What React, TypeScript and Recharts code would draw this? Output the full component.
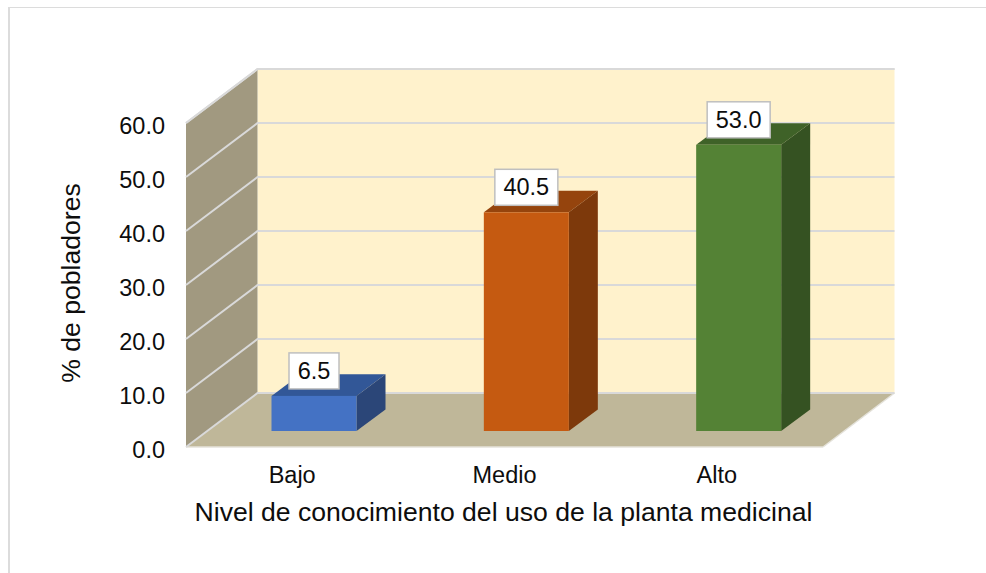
import { Bar, BarChart, CartesianGrid, LabelList, XAxis, YAxis, usePlotArea } from "recharts";

const niveles = ["Bajo", "Medio", "Alto"];
const porcentajes = [6.5, 40.5, 53.0];
const yTicks = [0, 10, 20, 30, 40, 50, 60];

const data = niveles.map((nivel, i) => ({ nivel, pct: porcentajes[i] }));

const FONT = '"Liberation Sans", Arial, sans-serif';
const GRID = "#d9d9d9";

// depth of the fake 3D box
const DEPTH_X = 71.5;
const DEPTH_Y = -54;
// bars stand a bit inside the floor, and have their own depth
const BAR_SHIFT_X = 21.5;
const BAR_SHIFT_Y = -16;
const BAR_DX = 29;
const BAR_DY = -21.6;

const frontColors = ["#4472c4", "#c55a11", "#548235"];
const topColors = ["#325797", "#95440d", "#3f6228"];
const sideColors = ["#2b4678", "#7d390b", "#355222"];

function Walls() {
  const plot = usePlotArea();
  if (!plot) return null;
  const left = plot.x;
  const right = plot.x + plot.width;
  const top = plot.y;
  const bottom = plot.y + plot.height;
  const pts = (list: number[][]) => list.map((p) => p.join(",")).join(" ");
  return (
    <g>
      <polygon
        points={pts([
          [left + DEPTH_X, top + DEPTH_Y],
          [right + DEPTH_X, top + DEPTH_Y],
          [right + DEPTH_X, bottom + DEPTH_Y],
          [left + DEPTH_X, bottom + DEPTH_Y],
        ])}
        fill="#fff2cc"
      />
      <polygon
        points={pts([
          [left, top],
          [left + DEPTH_X, top + DEPTH_Y],
          [left + DEPTH_X, bottom + DEPTH_Y],
          [left, bottom],
        ])}
        fill="#a19980"
      />
      <polygon
        points={pts([
          [left, bottom],
          [left + DEPTH_X, bottom + DEPTH_Y],
          [right + DEPTH_X, bottom + DEPTH_Y],
          [right, bottom],
        ])}
        fill="#bfb799"
      />
      <line x1={left} y1={bottom} x2={right} y2={bottom} stroke="#e4e2da" strokeWidth={1.5} />
      <line x1={right} y1={bottom} x2={right + DEPTH_X} y2={bottom + DEPTH_Y} stroke="#e4e2da" strokeWidth={1.5} />
      <line x1={left + DEPTH_X} y1={top + DEPTH_Y} x2={right + DEPTH_X} y2={top + DEPTH_Y} stroke={GRID} strokeWidth={2} />
      <line x1={left} y1={top} x2={left + DEPTH_X} y2={top + DEPTH_Y} stroke={GRID} strokeWidth={2} />
    </g>
  );
}

function wallLine(props: any) {
  const { x1, x2, y1, key } = props;
  const backY = y1 + DEPTH_Y;
  return (
    <polyline
      key={key}
      points={`${x1},${y1} ${x1 + DEPTH_X},${backY} ${x2 + DEPTH_X},${backY}`}
      fill="none"
      stroke={GRID}
      strokeWidth={2}
    />
  );
}

function Box3D(props: any) {
  const { x, y, width, height, index } = props;
  const l = x + BAR_SHIFT_X;
  const r = l + width;
  const t = y + BAR_SHIFT_Y;
  const b = t + height;
  return (
    <g>
      <polygon
        points={`${l},${t} ${l + BAR_DX},${t + BAR_DY} ${r + BAR_DX},${t + BAR_DY} ${r},${t}`}
        fill={topColors[index]}
      />
      <polygon
        points={`${r},${t} ${r + BAR_DX},${t + BAR_DY} ${r + BAR_DX},${b + BAR_DY} ${r},${b}`}
        fill={sideColors[index]}
      />
      <rect x={l} y={t} width={width} height={height} fill={frontColors[index]} />
    </g>
  );
}

function ValueBox(props: any) {
  const { x, y, width, value } = props;
  const text = Number(value).toFixed(1);
  const boxW = text.length > 3 ? 63 : 50;
  const boxH = 36;
  const cx = x + width / 2 + BAR_SHIFT_X;
  const cy = y + BAR_SHIFT_Y - 25;
  return (
    <g>
      <rect
        x={cx - boxW / 2}
        y={cy - boxH / 2}
        width={boxW}
        height={boxH}
        fill="#ffffff"
        stroke="#bfbfbf"
        strokeWidth={1.5}
      />
      <text x={cx} y={cy + 8} textAnchor="middle" fontFamily={FONT} fontSize={23.5} fill="#0d0d0d">
        {text}
      </text>
    </g>
  );
}

export default function App() {
  return (
    <div style={{ position: "fixed", left: 0, top: 0, width: 986, height: 573, background: "#fff", overflow: "hidden" }}>
      <div
        style={{
          position: "absolute",
          left: 8,
          top: 7,
          width: 986,
          height: 573,
          borderLeft: "2px solid #dcdcdc",
          borderTop: "1.5px solid #dcdcdc",
        }}
      />
      <div style={{ position: "absolute", left: 0, top: 0 }}>
        <BarChart
          width={986}
          height={573}
          data={data}
          barSize={85}
          margin={{ top: 123, right: 163, bottom: 66, left: 106 }}
        >
          <Walls />
          <CartesianGrid vertical={false} horizontal={wallLine} zIndex={1} />
          <XAxis
            dataKey="nivel"
            height={60}
            axisLine={false}
            tickLine={false}
            tickMargin={13}
            tick={{ fill: "#0d0d0d", fontSize: 23.5, fontFamily: FONT }}
            label={{
              value: "Nivel de conocimiento del uso de la planta medicinal",
              position: "insideBottom",
              offset: -14,
              dx: -1,
              fill: "#0d0d0d",
              fontSize: 26.6,
              fontFamily: FONT,
            }}
          />
          <YAxis
            width={80}
            domain={[0, 60]}
            ticks={yTicks}
            axisLine={false}
            tickLine={false}
            tickMargin={15}
            tickFormatter={(v: number) => v.toFixed(1)}
            tick={{ fill: "#0d0d0d", fontSize: 23.5, fontFamily: FONT, dy: 2.5 }}
            label={{
              value: "% de pobladores",
              angle: -90,
              position: "insideLeft",
              offset: -35,
              dy: -2,
              fill: "#0d0d0d",
              fontSize: 26.6,
              fontFamily: FONT,
              style: { textAnchor: "middle" },
            }}
          />
          <Bar dataKey="pct" isAnimationActive={false} shape={Box3D}>
            <LabelList dataKey="pct" content={ValueBox} />
          </Bar>
        </BarChart>
      </div>
    </div>
  );
}
